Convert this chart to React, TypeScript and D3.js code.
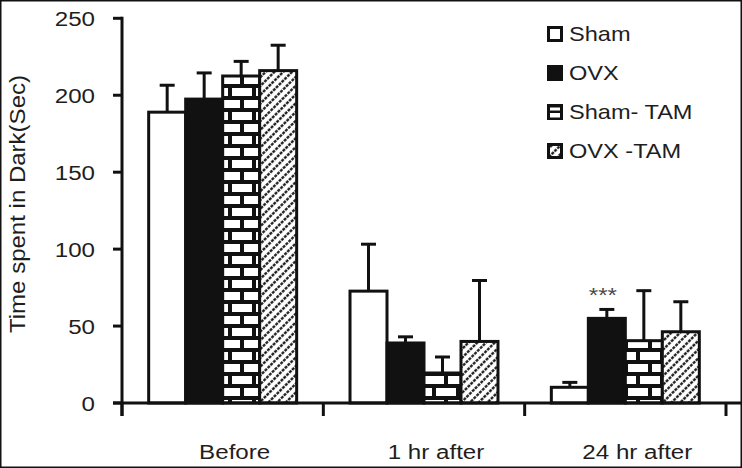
import React from 'react';
import * as d3 from 'd3';

const categories = ['Before', '1 hr after', '24 hr after'];
const seriesNames = ['Sham', 'OVX', 'Sham- TAM', 'OVX -TAM'];
const shamValues = [189, 72.7, 10.2];
const ovxValues = [197.5, 39, 55];
const shamTamValues = [212.5, 19.5, 40.5];
const ovxTamValues = [216, 40, 46.3];
const shamErr = [17.5, 30.5, 3.2];
const ovxErr = [17, 4, 5.8];
const shamTamErr = [9.5, 10.4, 32.5];
const ovxTamErr = [16.5, 39.6, 19.5];
const significance = ['', '', '***'];
const yTicks = [0, 50, 100, 150, 200, 250];

const W = 742;
const H = 468;
const FONT = '"Liberation Sans", Arial, sans-serif';
const TXT = '#1e1e1e';
const SX = 1.15;

const seriesValues = [shamValues, ovxValues, shamTamValues, ovxTamValues];
const seriesErrs = [shamErr, ovxErr, shamTamErr, ovxTamErr];
const seriesFills = ['#ffffff', '#111111', 'url(#brick)', 'url(#hatch)'];

export default function App() {
  const y = d3.scaleLinear().domain([0, 250]).range([403, 18.3]);
  const xAxis = d3.scaleBand<string>().domain(categories).range([122, 726]);
  const xBars = d3
    .scaleBand<string>()
    .domain(categories)
    .range([122, 726])
    .paddingInner(0.265)
    .paddingOuter(0.1325);
  const xSeries = d3.scaleBand<string>().domain(seriesNames).range([0, xBars.bandwidth()]);

  const axisBoundaries = [
    ...categories.map((c) => xAxis(c) as number),
    (xAxis(categories[categories.length - 1]) as number) + xAxis.bandwidth(),
  ];

  return (
    <svg
      width={W}
      height={H}
      viewBox={`0 0 ${W} ${H}`}
      style={{ position: 'absolute', left: 0, top: 0, display: 'block', background: '#fff' }}
    >
      <defs>
        <pattern id="brick" patternUnits="userSpaceOnUse" width={24} height={24}>
          <rect x={0} y={0} width={24} height={24} fill="#fff" />
          <rect x={0} y={0} width={24} height={4} fill="#111" />
          <rect x={0} y={12} width={24} height={4} fill="#111" />
          <rect x={0} y={0} width={4} height={12} fill="#111" />
          <rect x={12} y={12} width={4} height={12} fill="#111" />
        </pattern>
        <pattern
          id="hatch"
          patternUnits="userSpaceOnUse"
          width={6.2}
          height={8}
          patternTransform="rotate(45)"
        >
          <rect x={0} y={0} width={6.2} height={8} fill="#fff" />
          <line x1={3.1} y1={0} x2={3.1} y2={8} stroke="#111" strokeWidth={2.2} strokeDasharray="3 1" />
        </pattern>
      </defs>

      <rect x={0.75} y={0.75} width={W - 1.5} height={H - 1.5} fill="none" stroke="#111" strokeWidth={1.5} />

      {/* bars */}
      {categories.map((cat, ci) => (
        <g key={cat}>
          {seriesNames.map((s, si) => {
            const x0 = (xBars(cat) as number) + (xSeries(s) as number);
            const v = seriesValues[si][ci];
            return (
              <rect
                key={s}
                x={x0}
                y={y(v)}
                width={xSeries.bandwidth()}
                height={y(0) - y(v)}
                fill={seriesFills[si]}
                stroke="#111"
                strokeWidth={3}
              />
            );
          })}
        </g>
      ))}

      {/* error bars */}
      {categories.map((cat, ci) => (
        <g key={cat + '-err'}>
          {seriesNames.map((s, si) => {
            const cx = (xBars(cat) as number) + (xSeries(s) as number) + xSeries.bandwidth() / 2;
            const v = seriesValues[si][ci];
            const e = seriesErrs[si][ci];
            return (
              <g key={s}>
                <line x1={cx} x2={cx} y1={y(v)} y2={y(v + e)} stroke="#111" strokeWidth={3} />
                <line x1={cx - 7.5} x2={cx + 7.5} y1={y(v + e)} y2={y(v + e)} stroke="#111" strokeWidth={3} />
              </g>
            );
          })}
        </g>
      ))}

      {/* significance */}
      {categories.map((cat, ci) =>
        significance[ci] ? (
          <text
            key={cat + '-sig'}
            transform={`translate(${(xBars(cat) as number) + (xSeries('OVX') as number) + xSeries.bandwidth() / 2 - 4},${y(ovxValues[ci] + ovxErr[ci]) - 7}) scale(${SX},1)`}
            textAnchor="middle"
            fontFamily={FONT}
            fontSize={21}
            fill="#4a4a4a"
          >
            {significance[ci]}
          </text>
        ) : null
      )}

      {/* y axis */}
      <line x1={122} x2={122} y1={y(250) - 1.5} y2={416} stroke="#111" strokeWidth={3} />
      {yTicks.map((t) => (
        <g key={t}>
          <line x1={113} x2={122} y1={y(t)} y2={y(t)} stroke="#111" strokeWidth={3} />
          <text
            transform={`translate(95,${y(t) + 7.5}) scale(${SX},1)`}
            textAnchor="end"
            fontFamily={FONT}
            fontSize={21}
            fill={TXT}
          >
            {t}
          </text>
        </g>
      ))}

      {/* x axis */}
      <line x1={113} x2={741} y1={y(0)} y2={y(0)} stroke="#111" strokeWidth={3} />
      {axisBoundaries.map((bx, i) => (
        <line key={i} x1={bx} x2={bx} y1={y(0)} y2={416} stroke="#111" strokeWidth={3} />
      ))}
      {categories.map((cat) => (
        <text
          key={cat}
          transform={`translate(${(xAxis(cat) as number) + xAxis.bandwidth() / 2 + 12},459) scale(${SX},1)`}
          textAnchor="middle"
          fontFamily={FONT}
          fontSize={21}
          fill={TXT}
        >
          {cat}
        </text>
      ))}

      {/* y title */}
      <text
        transform="translate(25,204) rotate(-90)"
        textAnchor="middle"
        fontFamily={FONT}
        fontSize={21.5}
        fill={TXT}
        textLength={258}
        lengthAdjust="spacingAndGlyphs"
      >
        Time spent in Dark(Sec)
      </text>

      {/* legend */}
      {seriesNames.map((s, si) => {
        const ly = 26 + si * 39;
        return (
          <g key={s}>
            {si === 2 ? (
              <g>
                <rect x={548.5} y={ly + 1.5} width={13} height={13} fill="#111" stroke="#111" strokeWidth={3} />
                <rect x={550} y={ly + 3.5} width={10} height={3} fill="#fff" />
                <rect x={550} y={ly + 9} width={10} height={4.5} fill="#fff" />
              </g>
            ) : (
              <rect
                x={548.5}
                y={ly + 1.5}
                width={13}
                height={13}
                fill={seriesFills[si]}
                stroke="#111"
                strokeWidth={3}
              />
            )}
            <text
              transform={`translate(569,${ly + 15}) scale(${SX},1)`}
              fontFamily={FONT}
              fontSize={20.5}
              fill={TXT}
            >
              {s}
            </text>
          </g>
        );
      })}
    </svg>
  );
}
